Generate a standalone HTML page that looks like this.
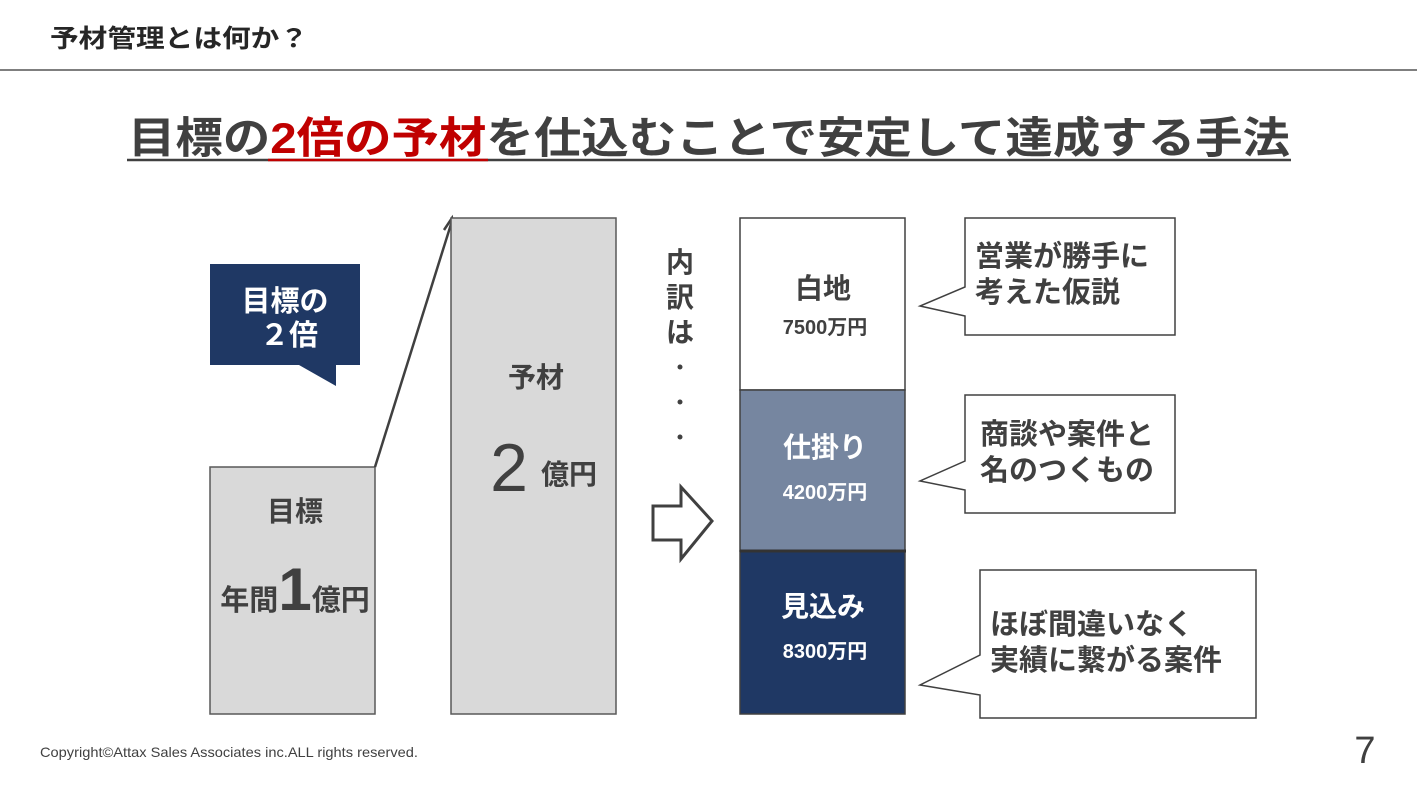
<!DOCTYPE html>
<html><head><meta charset="utf-8"><style>
body{margin:0;background:#fff;}
svg{display:block;font-family:"Liberation Sans","Noto Sans CJK JP",sans-serif;font-weight:bold;}
</style></head><body>
<svg width="1417" height="798" viewBox="0 0 1417 798" xmlns="http://www.w3.org/2000/svg">
<text x="50" y="47" font-size="25" fill="#262626" textLength="258" lengthAdjust="spacingAndGlyphs">予材管理とは何か？</text>
<line x1="0" y1="70" x2="1417" y2="70" stroke="#7f7f7f" stroke-width="2"/>
<text x="128" y="153" font-size="43" fill="#404040" textLength="1162" lengthAdjust="spacingAndGlyphs">目標の<tspan fill="#c00000">2倍の予材</tspan>を仕込むことで安定して達成する手法</text>
<line x1="127" y1="160" x2="1291" y2="160" stroke="#404040" stroke-width="2.5"/>
<line x1="268" y1="160" x2="488" y2="160" stroke="#c00000" stroke-width="2.5"/>

<path d="M210 264H360V365H336V386L299 365H210Z" fill="#1f3864"/>
<text x="285" y="311" font-size="29" fill="#fff" text-anchor="middle">目標の</text>
<text x="289" y="345" font-size="29" fill="#fff" text-anchor="middle">２倍</text>

<rect x="210" y="467" width="165" height="247" fill="#d9d9d9" stroke="#595959" stroke-width="1.5"/>
<text x="295" y="521" font-size="28" fill="#404040" text-anchor="middle">目標</text>
<text x="295" y="610" font-size="29" fill="#404040" text-anchor="middle">年間<tspan font-size="60">1</tspan>億円</text>

<line x1="375" y1="467" x2="452" y2="221" stroke="#404040" stroke-width="2.5"/>
<path d="M444 230L452 218L455 233" fill="none" stroke="#404040" stroke-width="2.5"/>

<rect x="451" y="218" width="165" height="496" fill="#d9d9d9" stroke="#595959" stroke-width="1.5"/>
<text x="536" y="387" font-size="28" fill="#404040" text-anchor="middle">予材</text>
<text x="509" y="491" font-size="68" font-weight="normal" fill="#404040" text-anchor="middle">2</text>
<text x="569" y="484" font-size="28" fill="#404040" text-anchor="middle">億円</text>

<text x="680" y="272" font-size="28" fill="#404040" text-anchor="middle">内</text>
<text x="680" y="307" font-size="28" fill="#404040" text-anchor="middle">訳</text>
<text x="680" y="342" font-size="28" fill="#404040" text-anchor="middle">は</text>
<circle cx="680" cy="367" r="2.5" fill="#404040"/>
<circle cx="680" cy="402" r="2.5" fill="#404040"/>
<circle cx="680" cy="437" r="2.5" fill="#404040"/>

<path d="M653 506H681V487L712 521L681 559V540H653Z" fill="#fff" stroke="#404040" stroke-width="3"/>

<rect x="740" y="218" width="165" height="172" fill="#fff" stroke="#404040" stroke-width="1.5"/>
<rect x="740" y="390" width="165" height="161" fill="#7686a0" stroke="#404040" stroke-width="1.5"/>
<rect x="740" y="551" width="165" height="163" fill="#1f3864" stroke="#404040" stroke-width="1.5"/>
<line x1="740" y1="551" x2="906" y2="551" stroke="#333" stroke-width="3"/>
<text x="823" y="298" font-size="28" fill="#404040" text-anchor="middle">白地</text>
<text x="825" y="334" font-size="20" fill="#404040" text-anchor="middle">7500万円</text>
<text x="825" y="457" font-size="28" fill="#fff" text-anchor="middle">仕掛り</text>
<text x="825" y="499" font-size="20" fill="#fff" text-anchor="middle">4200万円</text>
<text x="823" y="616" font-size="28" fill="#fff" text-anchor="middle">見込み</text>
<text x="825" y="658" font-size="20" fill="#fff" text-anchor="middle">8300万円</text>

<path d="M965 218H1175V335H965V316L920 306L965 287Z" fill="#fff" stroke="#404040" stroke-width="1.5"/>
<text x="975" y="266" font-size="29" fill="#404040">営業が勝手に</text>
<text x="975" y="302" font-size="29" fill="#404040">考えた仮説</text>

<path d="M965 395H1175V513H965V490L920 481L965 461Z" fill="#fff" stroke="#404040" stroke-width="1.5"/>
<text x="980" y="444" font-size="29" fill="#404040">商談や案件と</text>
<text x="980" y="480" font-size="29" fill="#404040">名のつくもの</text>

<path d="M980 570H1256V718H980V695L920 685L980 655Z" fill="#fff" stroke="#404040" stroke-width="1.5"/>
<text x="990" y="634" font-size="29" fill="#404040">ほぼ間違いなく</text>
<text x="990" y="670" font-size="29" fill="#404040">実績に繋がる案件</text>

<text x="40" y="757" font-size="14" font-weight="normal" fill="#404040" textLength="378" lengthAdjust="spacingAndGlyphs">Copyright©Attax Sales Associates inc.ALL rights reserved.</text>
<text x="1365" y="763" font-size="38" font-weight="normal" fill="#404040" text-anchor="middle">7</text>
</svg>
</body></html>
